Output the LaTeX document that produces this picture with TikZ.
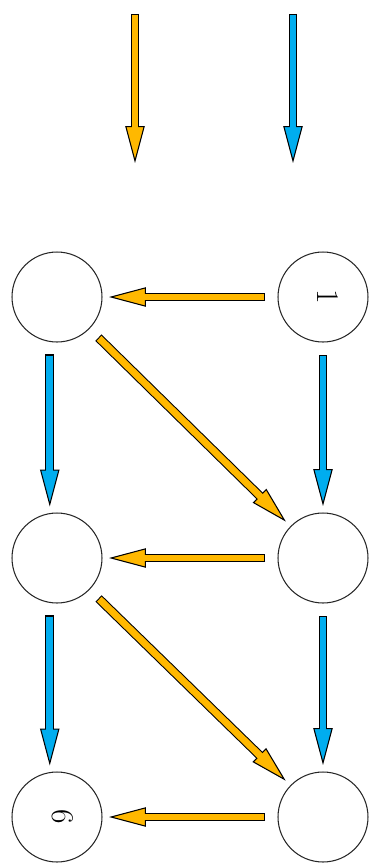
\documentclass[tikz,border=0pt]{standalone}
\usepackage{xcolor}
\definecolor{flowgold}{HTML}{FFB800}
\definecolor{flowblue}{HTML}{00ADEF}
\usetikzlibrary{arrows.meta, positioning}

% outlined fat arrow: black outline with tip, then coloured core
\newcommand{\flow}[3]{%
  \draw[shaftline, -{Triangle[color=black, fill=#1, line width'=0.6pt, length=21pt, width=11pt]}] (#2) -- (#3);
  \draw[line width=3.9pt, #1, shorten <=4pt, shorten >=19pt] (#2) -- (#3);
}

\begin{document}
\begin{tikzpicture}[
  x=0.02cm, y=-0.02cm,
  station/.style={circle, draw=black!85, line width=0.6pt, minimum size=1.8cm,
    inner sep=0pt, outer sep=4pt},
  digit/.style={rotate=-90, yshift=3pt, font=\fontsize{18}{18}\selectfont},
  shaftline/.style={line width=5.1pt, black, shorten <=3.4pt}
]
\useasboundingbox (0,0) rectangle (370,863);

% Incoming
\coordinate (goldin) at (135,8);
\coordinate (goldend) at (135,163);
\coordinate (bluein) at (293,8);
\coordinate (blueend) at (293,163);

% Stations
\node[station, label={[digit]center:1}] (r1) at (323,297) {};
\node[station] (l1) at (57,297) {};
\node[station] (r2) at (323,558) {};
\node[station] (l2) at (57,558) {};
\node[station] (r3) at (323,817) {};
\node[station, label={[digit]center:6}] (l3) at (57,817) {};

% Gold flows
\flow{flowgold}{goldin}{goldend}
\flow{flowgold}{r1}{l1}
\flow{flowgold}{l1}{r2}
\flow{flowgold}{r2}{l2}
\flow{flowgold}{l2}{r3}
\flow{flowgold}{r3}{l3}

% Blue flows
\flow{flowblue}{bluein}{blueend}
\flow{flowblue}{l1.262}{l2.98}
\flow{flowblue}{r1.south}{r2.north}
\flow{flowblue}{l2.262}{l3.98}
\flow{flowblue}{r2.south}{r3.north}
\end{tikzpicture}
\end{document}
